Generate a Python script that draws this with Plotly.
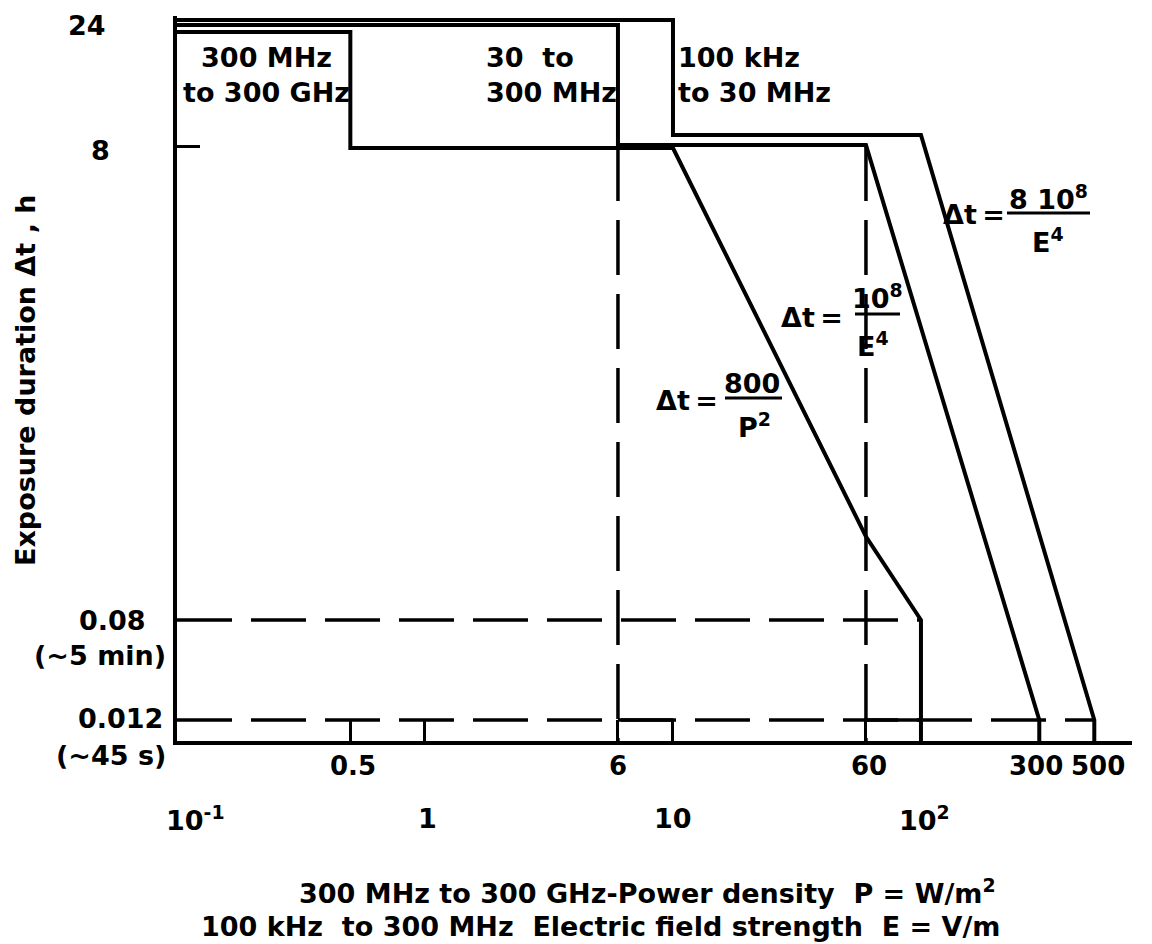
import numpy as np
import plotly.graph_objects as go

# ---------------- data ----------------
# 300 MHz - 300 GHz : power density P (W/m^2) vs exposure duration (h)
band_p_x = [0.1, 0.5, 0.5, 10, 60, 100, 100]
band_p_t = [24, 24, 8, 8, 0.18, 0.08, None]          # None = down to the axis
# 30 - 300 MHz : electric field strength E (V/m)
band_e1_x = [0.1, 6, 6, 60, 300, 300]
band_e1_t = [24, 24, 8, 8, 0.012, None]
# 100 kHz - 30 MHz : electric field strength E (V/m)
band_e2_x = [0.1, 10, 10, 100, 500, 500]
band_e2_t = [24, 24, 8, 8, 0.012, None]

# reference (dashed) levels and guides
level_5min_t = 0.08
level_5min_x = [0.1, 100]
level_45s_t = 0.012
level_45s_x = [0.1, 500]
guide_x = [6, 60]                 # vertical dashed guides from 8 h down
guide_top_t = 8
solid_45s_x = [[6, 10], [60, 100]]  # solid pieces on the 0.012 h level

x_ticks = [0.5, 1, 6, 10, 60, 100, 300, 500]
x_label_vals = [0.5, 6, 60, 300, 500]
x_label_text = ["0.5", "6", "60", "300", "500"]
decade_vals = [0.1, 1, 10, 100]
decade_text = ["10<sup>-1</sup>", "1", "10", "10<sup>2</sup>"]

# ---------------- schematic (non-uniform) duration scale ----------------
Y_ANCHOR_H = [0.012, 0.08, 8, 24]
Y_ANCHOR_U = [21, 121, 595, 716]
Y_TOP = 725


def yscale(h, nudge=None):
    if h is None:
        return 0.0
    u = float(np.interp(np.log10(h), np.log10(Y_ANCHOR_H), Y_ANCHOR_U))
    if nudge and h in nudge:
        u += nudge[h]
    return u


FONT = "DejaVu Sans"
BLACK = "#000000"
PAGE_OFF = 8                      # default body margin of the page
W, H = 1152 - PAGE_OFF, 944 - PAGE_OFF
ML, MT = 177 - PAGE_OFF, 16 - PAGE_OFF
PW, PH = 955, 725
MR, MB = W - ML - PW, H - MT - PH


def px(xpix):
    return (xpix - PAGE_OFF - ML) / PW


def py(ypix):
    return (MT + PH + PAGE_OFF - ypix) / PH


fig = go.Figure()

bands = [
    (band_p_x, band_p_t, {24: -7, 8: -2}),
    (band_e1_x, band_e1_t, {24: 0, 8: 1}),
    (band_e2_x, band_e2_t, {24: 5, 8: 11}),
]
for bx, bt, nudge in bands:
    fig.add_trace(go.Scatter(
        x=bx, y=[yscale(t, nudge) for t in bt], mode="lines",
        line=dict(color=BLACK, width=4), hoverinfo="skip", showlegend=False))

dash = "55px,19px"
for lx, lt in [(level_5min_x, level_5min_t), (level_45s_x, level_45s_t)]:
    fig.add_trace(go.Scatter(
        x=lx, y=[yscale(lt)] * 2, mode="lines",
        line=dict(color=BLACK, width=3.5, dash=dash),
        hoverinfo="skip", showlegend=False))

for gx in guide_x:
    fig.add_trace(go.Scatter(
        x=[gx, gx], y=[yscale(guide_top_t), yscale(None)], mode="lines",
        line=dict(color=BLACK, width=3.5, dash=dash),
        hoverinfo="skip", showlegend=False))

for sx in solid_45s_x:
    fig.add_trace(go.Scatter(
        x=sx, y=[yscale(level_45s_t)] * 2, mode="lines",
        line=dict(color=BLACK, width=3.5),
        hoverinfo="skip", showlegend=False))

annotations = []
F = dict(family=FONT, size=27, color=BLACK, weight="bold")

# y labels
ylabels = [
    ("24", 108, yscale(24), 0),
    ("8", 112, yscale(8), -4),
    ("0.08", 148, yscale(0.08), 0),
    ("(~5 min)", 168, yscale(0.08), -35),
    ("0.012", 165, yscale(0.012), 2),
    ("(~45 s)", 168, yscale(0.012), -35),
]
for txt, xr, yv, ys in ylabels:
    annotations.append(dict(text=txt, xref="paper", x=px(xr), xanchor="right",
                            yref="y", y=yv, yanchor="middle", yshift=ys,
                            showarrow=False, font=F))

# first row of x labels
lab_shift = [3, 0, 3, -3, 4]
for v, t, s in zip(x_label_vals, x_label_text, lab_shift):
    annotations.append(dict(text=t, xref="x", x=np.log10(v), xanchor="center", xshift=s,
                            yref="paper", y=py(766), yanchor="middle",
                            showarrow=False, font=dict(F, size=26)))

# decade labels (second row)
dec_shift = [18, 3, 0, 4]
for v, t, s in zip(decade_vals, decade_text, dec_shift):
    annotations.append(dict(text=t, xref="x", x=np.log10(v), xanchor="center", xshift=s,
                            yref="paper", y=py(818), yanchor="middle",
                            showarrow=False, font=F))

# band labels
annotations += [
    dict(text="300 MHz<br>to 300 GHz", xref="paper", x=px(266), xanchor="center",
         yref="paper", y=py(75), yanchor="middle", align="center", showarrow=False, font=F),
    dict(text="30\u00a0\u00a0to<br>300 MHz", xref="paper", x=px(484), xanchor="left",
         yref="paper", y=py(75), yanchor="middle", align="left", showarrow=False, font=F),
    dict(text="100 kHz<br>to 30 MHz", xref="paper", x=px(676), xanchor="left",
         yref="paper", y=py(75), yanchor="middle", align="left", showarrow=False, font=F),
]

# formulas
formulas = [
    ((687, 400), "800", (752, 383), "P<sup>2</sup>", (754, 425), (725, 782, 398)),
    ((812, 317), "10<sup>8</sup>", (877, 296), "E<sup>4</sup>", (873, 344), (855, 900, 314)),
    ((974, 215), "8\u00a010<sup>8</sup>", (1048, 197), "E<sup>4</sup>", (1048, 241), (1007, 1090, 213)),
]
shapes = []
for (dx, dy), num, (nx, ny), den, (ex, ey), (b0, b1, by) in formulas:
    annotations.append(dict(text="\u0394t\u2009=", xref="paper", x=px(dx), yref="paper", y=py(dy),
                            xanchor="center", yanchor="middle", showarrow=False, font=F))
    annotations.append(dict(text=num, xref="paper", x=px(nx), yref="paper", y=py(ny),
                            xanchor="center", yanchor="middle", showarrow=False, font=F))
    annotations.append(dict(text=den, xref="paper", x=px(ex), yref="paper", y=py(ey),
                            xanchor="center", yanchor="middle", showarrow=False, font=F))
    shapes.append(dict(type="line", xref="paper", yref="paper", x0=px(b0), x1=px(b1),
                       y0=py(by), y1=py(by), line=dict(color=BLACK, width=3)))

# axis captions
annotations += [
    dict(text="300 MHz to 300 GHz-Power density\u00a0\u00a0P = W/m<sup>2</sup>", xref="paper",
         x=px(297), xanchor="left", yref="paper", y=py(891), yanchor="middle",
         showarrow=False, font=F),
    dict(text="100 kHz\u00a0\u00a0to 300 MHz\u00a0\u00a0Electric field strength\u00a0\u00a0E = V/m", xref="paper",
         x=px(199), xanchor="left", yref="paper", y=py(926), yanchor="middle",
         showarrow=False, font=F),
    dict(text="Exposure duration \u0394t , h", xref="paper", x=px(25), xanchor="center",
         yref="paper", y=py(380), yanchor="middle", textangle=-90,
         showarrow=False, font=F),
]

fig.update_layout(
    width=W, height=H,
    margin=dict(l=ML, r=MR, t=MT, b=MB),
    paper_bgcolor="white", plot_bgcolor="white",
    font=dict(family=FONT, size=27, color=BLACK),
    annotations=annotations, shapes=shapes,
    xaxis=dict(type="log", range=[-1, 2.851], showgrid=False, zeroline=False,
               showline=True, linecolor=BLACK, linewidth=4,
               tickmode="array", tickvals=x_ticks, showticklabels=False,
               ticks="inside", ticklen=21, tickwidth=3, tickcolor=BLACK),
    yaxis=dict(range=[0, Y_TOP], showgrid=False, zeroline=False,
               showline=True, linecolor=BLACK, linewidth=4,
               tickmode="array", tickvals=[yscale(8)], ticks="inside",
               ticklen=23, tickwidth=3, tickcolor=BLACK, showticklabels=False),
)

fig.write_html("out.html")
